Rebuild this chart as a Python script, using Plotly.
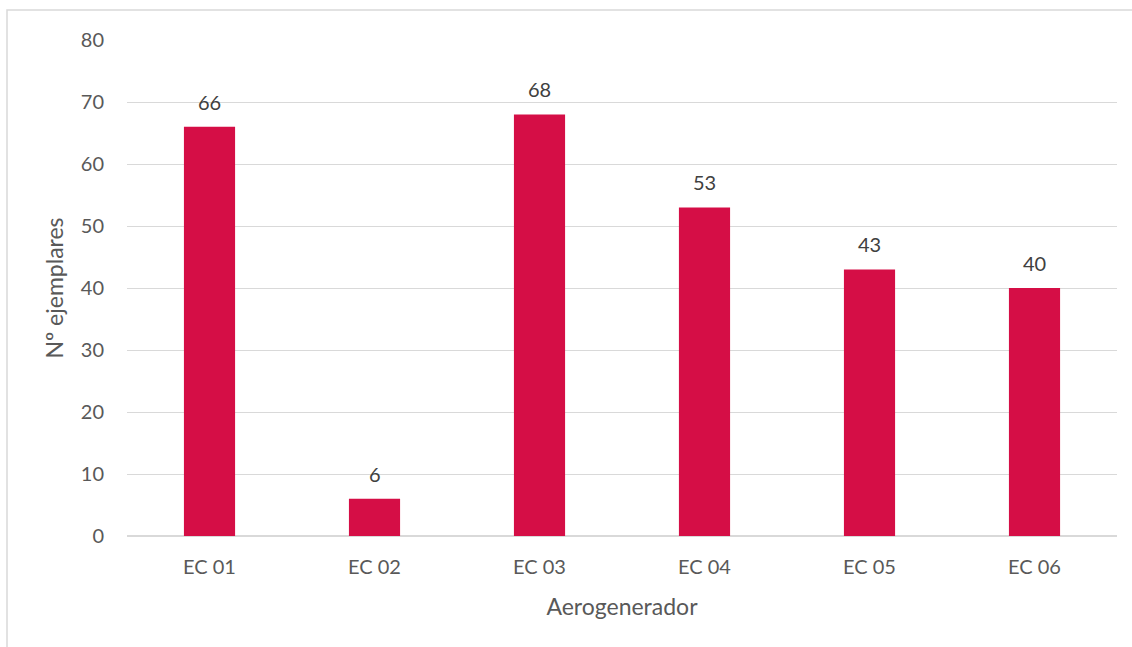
import plotly.graph_objects as go

categorias = ["EC 01", "EC 02", "EC 03", "EC 04", "EC 05", "EC 06"]
ejemplares = [66, 6, 68, 53, 43, 40]
y_ticks = [0, 10, 20, 30, 40, 50, 60, 70, 80]

BAR_COLOR = "#D50E46"
TEXT_COLOR = "#595959"
GRID_COLOR = "#D9D9D9"
FONT = "Lato, 'Open Sans', sans-serif"

fig = go.Figure()
fig.add_trace(go.Bar(
    x=categorias,
    y=ejemplares,
    marker=dict(color=BAR_COLOR, line=dict(width=0)),
    width=0.31,
    hoverinfo="x+y",
))

# value labels above each bar
for c, v in zip(categorias, ejemplares):
    fig.add_annotation(
        x=c, y=v, text=str(v), showarrow=False,
        yanchor="bottom", yshift=11,
        font=dict(family=FONT, size=20, color="#404040"),
    )

L, R, T, B = 127, 15, 40, 111
W, H = 1132, 647
pw, ph = W - L - R, H - T - B

# outer chart frame
fig.add_shape(
    type="rect", xref="paper", yref="paper",
    x0=(7 - L) / pw, x1=(W + 20 - L) / pw,
    y0=-(H + 20 - (T + ph)) / ph, y1=(T + ph - 10) / ph,
    line=dict(color="#D9D9D9", width=1.5), fillcolor="rgba(0,0,0,0)",
    layer="below",
)

fig.update_layout(
    width=W, height=H,
    margin=dict(l=L, r=R, t=T, b=B),
    paper_bgcolor="white", plot_bgcolor="white",
    font=dict(family=FONT, size=20, color=TEXT_COLOR),
    showlegend=False,
    xaxis=dict(
        showgrid=False, showline=False, zeroline=False,
        ticks="", ticklabelstandoff=17,
        tickfont=dict(size=20, color=TEXT_COLOR),
        title=dict(text="Aerogenerador", font=dict(size=23, color=TEXT_COLOR), standoff=21),
    ),
    yaxis=dict(
        range=[0, 80], tickvals=y_ticks,
        showgrid=True, gridcolor=GRID_COLOR, gridwidth=1,
        zeroline=True, zerolinecolor=GRID_COLOR, zerolinewidth=1.5,
        showline=False, ticks="", ticklabelstandoff=22,
        tickfont=dict(size=20, color=TEXT_COLOR),
        title=dict(text="Nº ejemplares", font=dict(size=23, color=TEXT_COLOR), standoff=10),
    ),
)

fig.write_html("out.html")
